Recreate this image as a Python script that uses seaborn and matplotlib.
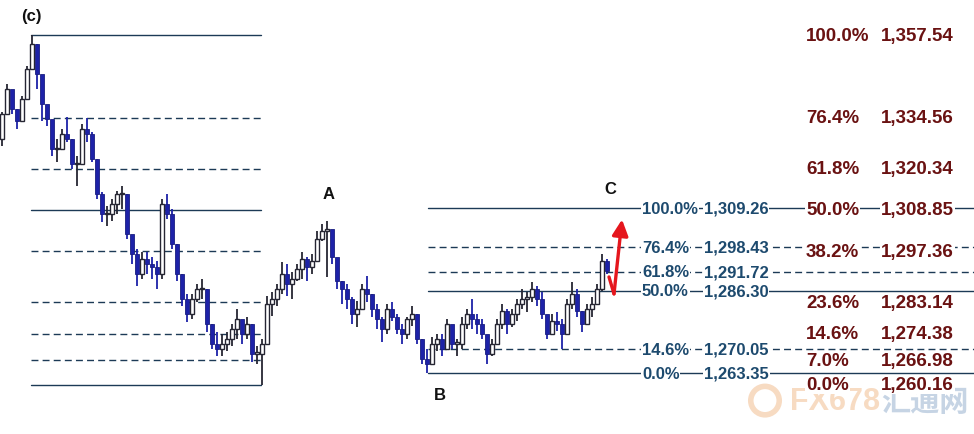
import numpy as np
import pandas as pd
import matplotlib
matplotlib.use("Agg")
import matplotlib.pyplot as plt
import seaborn as sns

# ---------------- data ----------------
highs = [1336.12, 1343.91, 1341.69, 1336.95, 1340.57, 1348.92, 1357.54, 1355.04, 1339.74, 1337.79,
         1332.22, 1328.61, 1331.39, 1334.72, 1328.61, 1323.87, 1332.78, 1334.45, 1330.56, 1323.04,
         1313.86, 1309.96, 1311.91, 1314.13, 1315.53, 1313.30, 1301.61, 1298.00, 1297.17, 1297.17,
         1295.77, 1294.66, 1311.91, 1313.30, 1309.13, 1299.39, 1291.05, 1285.48, 1285.48, 1288.26,
         1289.65, 1286.87, 1277.13, 1274.91, 1274.35, 1274.91, 1277.13, 1281.31, 1277.96, 1279.08,
         1277.13, 1271.01, 1272.96, 1284.92, 1286.04, 1288.26, 1294.39, 1293.83, 1291.61, 1293.83,
         1297.17, 1295.77, 1296.61, 1303.00, 1304.96, 1305.79, 1303.00, 1294.66, 1289.09, 1288.26,
         1284.64, 1283.53, 1288.26, 1290.49, 1285.48, 1282.70, 1279.08, 1282.70, 1283.26, 1279.92,
         1277.13, 1279.08, 1282.14, 1279.92, 1272.96, 1270.18, 1273.51, 1274.35, 1274.35, 1278.52,
         1275.74, 1272.96, 1279.08, 1281.31, 1284.09, 1279.92, 1278.52, 1273.51, 1272.96, 1278.52,
         1282.70, 1281.31, 1281.31, 1284.09, 1286.87, 1286.04, 1288.82, 1287.70, 1286.04, 1279.08,
         1279.92, 1280.48, 1278.52, 1284.09, 1288.82, 1286.87, 1280.75, 1282.70, 1284.65, 1288.26,
         1296.61, 1295.22]
lows = [1326.66, 1336.95, 1335.56, 1331.39, 1334.17, 1341.13, 1348.92, 1342.52, 1333.61, 1332.22,
        1323.87, 1322.21, 1325.82, 1327.78, 1320.26, 1315.53, 1323.04, 1327.78, 1322.21, 1311.91,
        1305.52, 1304.40, 1305.79, 1307.74, 1309.13, 1300.78, 1293.83, 1287.70, 1289.65, 1291.05,
        1289.65, 1286.87, 1289.65, 1306.35, 1298.00, 1289.09, 1282.14, 1277.69, 1278.52, 1283.26,
        1284.09, 1274.91, 1270.18, 1268.23, 1268.23, 1269.62, 1271.01, 1272.96, 1271.57, 1272.96,
        1266.56, 1266.00, 1260.16, 1272.96, 1279.36, 1282.14, 1285.48, 1284.92, 1284.09, 1289.09,
        1289.65, 1289.09, 1291.05, 1295.22, 1300.22, 1290.21, 1293.83, 1286.87, 1282.70, 1281.31,
        1277.13, 1276.29, 1281.31, 1283.26, 1279.08, 1275.74, 1272.13, 1274.35, 1277.96, 1274.35,
        1271.57, 1272.96, 1276.57, 1271.57, 1266.00, 1263.35, 1267.39, 1269.62, 1268.23, 1272.96,
        1270.18, 1268.23, 1270.18, 1275.74, 1275.74, 1274.35, 1272.96, 1266.00, 1268.23, 1271.57,
        1275.74, 1274.35, 1276.29, 1277.96, 1281.31, 1280.48, 1283.26, 1282.14, 1278.52, 1272.96,
        1274.35, 1275.18, 1270.18, 1275.74, 1281.31, 1279.08, 1274.91, 1277.13, 1279.08, 1282.70,
        1286.31, 1291.05]
closes = [1335.56, 1342.52, 1336.95, 1333.61, 1339.74, 1348.08, 1355.04, 1346.69, 1338.35, 1334.17,
          1325.82, 1325.82, 1330.00, 1328.61, 1321.65, 1321.65, 1331.39, 1330.00, 1323.04, 1313.30,
          1307.74, 1307.74, 1310.52, 1313.30, 1313.30, 1302.17, 1296.61, 1291.05, 1295.22, 1293.83,
          1292.99, 1291.05, 1310.52, 1307.74, 1299.39, 1291.05, 1284.09, 1279.92, 1284.09, 1286.87,
          1286.87, 1277.13, 1271.57, 1270.18, 1271.57, 1272.96, 1275.74, 1278.52, 1274.35, 1277.13,
          1268.79, 1268.79, 1271.57, 1282.70, 1284.09, 1286.87, 1291.05, 1288.26, 1289.65, 1292.44,
          1295.22, 1292.99, 1294.66, 1300.78, 1303.00, 1303.56, 1295.77, 1289.09, 1286.87, 1284.09,
          1279.92, 1281.31, 1286.87, 1285.48, 1281.31, 1278.52, 1275.74, 1281.31, 1279.08, 1275.74,
          1274.35, 1278.52, 1279.92, 1272.96, 1267.39, 1266.00, 1271.57, 1272.96, 1270.18, 1277.13,
          1271.57, 1271.57, 1277.13, 1279.92, 1278.52, 1277.13, 1274.35, 1268.79, 1271.57, 1277.13,
          1280.75, 1277.13, 1279.92, 1282.70, 1284.09, 1284.65, 1286.87, 1284.09, 1279.92, 1274.35,
          1277.96, 1277.13, 1274.35, 1282.70, 1285.48, 1280.75, 1277.13, 1281.31, 1282.70, 1286.87,
          1294.66, 1291.88]
first_open = 1328.6

big_labels = ["100.0%", "76.4%", "61.8%", "50.0%", "38.2%", "23.6%", "14.6%", "7.0%", "0.0%"]
big_levels = [1357.54, 1334.56, 1320.34, 1308.85, 1297.36, 1283.14, 1274.38, 1266.98, 1260.16]
big_kind = ["solid", "dashed", "dashed", "solid", "dashed", "dashed", "dashed", "dashed", "solid"]

small_labels = ["100.0%", "76.4%", "61.8%", "50.0%", "14.6%", "0.0%"]
small_levels = [1309.26, 1298.43, 1291.72, 1286.30, 1270.05, 1263.35]
small_kind = ["solid", "dashed", "dashed", "solid", "dashed", "solid"]

wave_names = ["(c)", "A", "B", "C"]
wave_x = [5.8, 65.4, 87.6, 121.6]
wave_y = [1363.1, 1313.3, 1257.6, 1314.7]

arrow_x = [121.4, 122.4, 124.0]
arrow_y = [1290.2, 1285.5, 1306.2]

# ---------------- style ----------------
sns.set_theme(style="white")
plt.rcParams["font.family"] = ["Liberation Sans", "DejaVu Sans"]

LINE_COL = "#1c3a56"
SMALL_COL = "#1d4a6e"
BIG_COL = "#6a1212"
UP_EDGE = "#262633"
DOWN_COL = "#1d22a8"

fig = plt.figure(figsize=(9.74, 4.35), dpi=100)
fig.patch.set_facecolor("white")
ax = fig.add_axes([0, 0, 1, 1])
XMAX = 194.4
ax.set_xlim(-0.4, XMAX)
ax.set_ylim(1246.5, 1367.56)
ax.axis("off")

# watermark (faint)
ax.text(157.6, 1255.8, "FX678", color="#f5cfae", alpha=0.75, fontsize=22,
        fontweight="bold", ha="left", va="center", zorder=0.5)
ax.text(175.8, 1255.8, "汇通网", color="#b3c6dc", alpha=0.75, fontsize=21,
        fontweight="bold", ha="left", va="center", zorder=0.5,
        family=["Noto Sans CJK SC", "DejaVu Sans"])
ax.scatter([152.6], [1255.8], s=420, facecolors="none", edgecolors="#f5cfae",
           linewidths=4, alpha=0.75, zorder=0.5)

# ---------------- candles ----------------
n = len(closes)
idx = np.arange(n)
opens = np.r_[first_open, np.array(closes[:-1])]
closes_a = np.array(closes)
up = closes_a >= opens

ax.vlines(idx, lows, highs, colors=np.where(up, UP_EDGE, DOWN_COL), lw=1.3, zorder=2)
body_bottom = np.minimum(opens, closes_a)
body_h = np.maximum(np.abs(closes_a - opens), 0.4)
ax.bar(idx[up], body_h[up], bottom=body_bottom[up], width=0.7,
       color="white", edgecolor=UP_EDGE, linewidth=1.0, zorder=3)
ax.bar(idx[~up], body_h[~up], bottom=body_bottom[~up], width=0.8,
       color=DOWN_COL, edgecolor="#1a1e80", linewidth=0.6, zorder=3)

# ---------------- fibonacci lines ----------------
i_hi = int(np.argmax(highs))
i_lo = int(np.argmin(lows))
i_b = int(np.argmin(lows[60:])) + 60
rows = []
for lv, k in zip(big_levels, big_kind):
    rows += [dict(x=i_hi - 0.2, y=lv, g=f"b{lv}", kind=k), dict(x=i_lo - 0.2, y=lv, g=f"b{lv}", kind=k)]
for lv, k in zip(small_levels, small_kind):
    rows += [dict(x=i_b + 0.2, y=lv, g=f"s{lv}", kind=k), dict(x=XMAX, y=lv, g=f"s{lv}", kind=k)]
fib = pd.DataFrame(rows)
sns.lineplot(data=fib, x="x", y="y", units="g", estimator=None, style="kind",
             dashes={"solid": "", "dashed": (5, 3)}, color=LINE_COL, lw=1,
             legend=False, ax=ax, zorder=1)
ax.set_xlim(-0.4, XMAX)
ax.set_ylim(1246.5, 1367.56)
ax.axis("off")

bb = dict(facecolor="white", edgecolor="none", pad=0.6)
for lab, lv in zip(small_labels, small_levels):
    ax.text(128.0, lv, lab, ha="left", va="center", color=SMALL_COL, fontsize=12,
            fontweight="bold", bbox=bb, zorder=5)
    ax.text(140.4, lv, f"{lv:,.2f}", ha="left", va="center", color=SMALL_COL, fontsize=12,
            fontweight="bold", bbox=bb, zorder=5)
for lab, lv in zip(big_labels, big_levels):
    ax.text(160.8, lv, lab, ha="left", va="center", color=BIG_COL, fontsize=13.5,
            fontweight="bold", bbox=bb, zorder=6)
    ax.text(190.4, lv, f"{lv:,.2f}", ha="right", va="center", color=BIG_COL, fontsize=13.5,
            fontweight="bold", bbox=bb, zorder=6)

# wave labels
for name, x, y in zip(wave_names, wave_x, wave_y):
    ax.text(x, y, name, ha="center", va="center", color="#111111", fontsize=12,
            fontweight="bold", zorder=6)

# red arrow
ax.plot(arrow_x[:2], arrow_y[:2], color="#e5161d", lw=2.4, solid_capstyle="round", zorder=7)
ax.annotate("", xy=(arrow_x[2], arrow_y[2]), xytext=(arrow_x[1], arrow_y[1]),
            arrowprops=dict(arrowstyle="-|>,head_length=0.8,head_width=0.4",
                            color="#e5161d", lw=2.4, shrinkA=0, shrinkB=0), zorder=7)

fig.savefig("out.png", dpi=100, facecolor="white")
